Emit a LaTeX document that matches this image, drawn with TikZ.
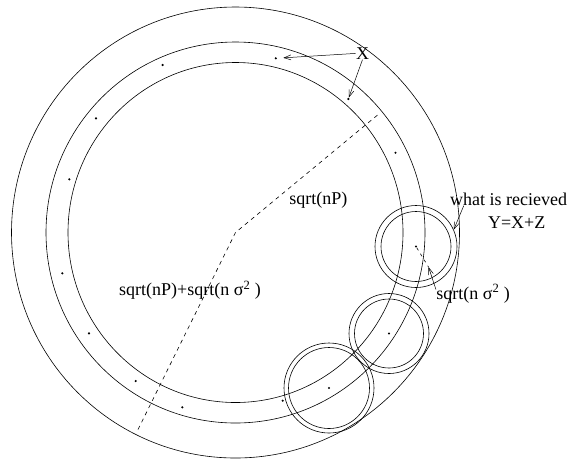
\documentclass[tikz,border=0pt]{standalone}
\usepackage{fontspec}
\setmainfont{Liberation Serif}
\usetikzlibrary{arrows.meta}
\begin{document}
\begin{tikzpicture}[x=1pt,y=-1pt,line width=0.6pt,
  dot/.style={circle,fill,inner sep=0pt,minimum size=2.4pt},
  lbl/.style={inner sep=0pt,font=\rmfamily\fontsize{18}{21}\selectfont},
  arr/.style={-{Straight Barb[length=7pt,width=5pt]},line width=0.5pt},
  ring/.style={circle,draw,inner sep=0pt},
  dsh/.style={dash pattern=on 4pt off 4pt}]
\useasboundingbox (0,0) rectangle (569,459);
\coordinate (ctr) at (235.5,232.5);
% big rings
\draw (ctr) ellipse [x radius=224pt, y radius=225.5pt];
\draw (ctr) ellipse [x radius=189.5pt, y radius=190.5pt];
\draw (ctr) ellipse [x radius=167.5pt, y radius=170pt];
% received spheres
\node[ring,minimum size=82pt] (p1o) at (416,246.5) {};
\node[ring,minimum size=70pt] (p1i) at (416,246.5) {};
\node[ring,minimum size=80pt] (p2o) at (389,333.5) {};
\node[ring,minimum size=69pt] (p2i) at (389,333.5) {};
\node[ring,minimum size=90pt] (p3o) at (329,388) {};
\node[ring,minimum size=81pt] (p3i) at (329,388) {};
% codeword dots
\node[dot] (d1) at (275.8,58.3) {};
\node[dot] (d2) at (162.6,65) {};
\node[dot] (d3) at (96,118.3) {};
\node[dot] (d4) at (69.3,179.3) {};
\node[dot] (d5) at (62.3,273.3) {};
\node[dot] (d6) at (89,333.3) {};
\node[dot] (d7) at (135.7,381) {};
\node[dot] (d8) at (182.3,407.3) {};
\node[dot] (d9) at (282.7,400.7) {};
\node[dot] (d10) at (329,388) {};
\node[dot] (d11) at (389,333.5) {};
\node[dot] (d12) at (416,246.5) {};
\node[dot] (d13) at (395.5,152.7) {};
\node[dot] (d14) at (348.3,99) {};
% radii
\coordinate (e1) at (380,113);
\coordinate (e2) at (138,429.5);
\draw[dsh] (e2) -- (ctr) -- (e1);
\coordinate (tipS) at (428.5,267);
\draw[dash pattern=on 3pt off 4pt] (d12) -- (tipS);
% labels
\node[lbl,anchor=base] (X) at (362.5,59.3) {X};
\node[lbl,anchor=base] (snp) at (318.3,204.3) {sqrt(nP)};
\node[lbl,anchor=base] (sum) at (190,295.7) {sqrt(nP)+sqrt(n σ\textsuperscript{2} )};
\node[lbl,anchor=base] (what) at (508.5,205.7) {what is recieved};
\node[lbl,anchor=base] (Y) at (516.7,228.3) {Y=X+Z};
\node[lbl,anchor=base west] (sig) at (436,299) {sqrt(n σ\textsuperscript{2} )};
% arrows
\draw[arr,shorten >=6pt] (X.west) -- (d1);
\draw[arr] (X.south) -- (d14);
\draw[arr] ([xshift=14pt]what.base west) -- (p1o.24);
\draw[arr] ([yshift=4pt]sig.west) -- (tipS);
\end{tikzpicture}
\end{document}
